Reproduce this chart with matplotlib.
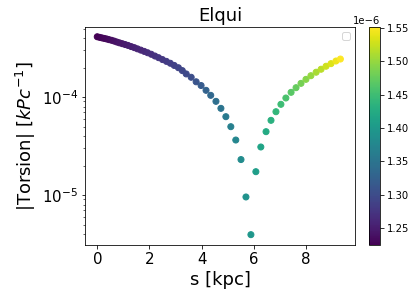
import matplotlib
matplotlib.use('Agg')
import matplotlib.pyplot as plt

# arc length along the arm [kpc]
s = [0.00, 0.09, 0.18, 0.27, 0.36, 0.45, 0.55, 0.65, 0.75, 0.85,
     0.96, 1.07, 1.18, 1.30, 1.42, 1.54, 1.67, 1.80, 1.93, 2.07,
     2.21, 2.35, 2.50, 2.65, 2.80, 2.95, 3.11, 3.26, 3.41, 3.60,
     3.79, 3.98, 4.17, 4.35, 4.55, 4.74, 4.93, 5.12, 5.31, 5.51,
     5.70, 5.89, 6.08, 6.27, 6.47, 6.66, 6.85, 7.04, 7.23, 7.43,
     7.62, 7.81, 8.00, 8.19, 8.39, 8.58, 8.77, 8.96, 9.15, 9.32]

# |torsion| in units of 1e-4 kpc^-1
torsion = [4.12, 4.06, 4.01, 3.96, 3.91, 3.85, 3.79, 3.72, 3.64, 3.57,
           3.50, 3.43, 3.36, 3.27, 3.19, 3.10, 3.01, 2.92, 2.83, 2.73,
           2.62, 2.52, 2.41, 2.31, 2.21, 2.10, 1.99, 1.86, 1.72, 1.59,
           1.43, 1.31, 1.17, 1.04, 0.903, 0.766, 0.630, 0.498, 0.364, 0.230,
           0.0955, 0.0394, 0.173, 0.309, 0.443, 0.578, 0.708, 0.842, 0.977, 1.116,
           1.245, 1.378, 1.514, 1.65, 1.79, 1.92, 2.06, 2.19, 2.33, 2.44]

# colour quantity in units of 1e-6
cval = [1.2245, 1.2265, 1.2284, 1.2304, 1.2320, 1.2340, 1.2363, 1.2382, 1.2405, 1.2425,
        1.2448, 1.2474, 1.2497, 1.2523, 1.2546, 1.2572, 1.2602, 1.2628, 1.2654, 1.2687,
        1.2716, 1.2745, 1.2778, 1.2808, 1.2840, 1.2873, 1.2906, 1.2939, 1.2971, 1.3017,
        1.3095, 1.3177, 1.3259, 1.3341, 1.3423, 1.3501, 1.3583, 1.3661, 1.3743, 1.3822,
        1.3900, 1.3979, 1.4064, 1.4149, 1.4234, 1.4319, 1.4404, 1.4492, 1.4577, 1.4662,
        1.4747, 1.4832, 1.4917, 1.5002, 1.5087, 1.5176, 1.5261, 1.5346, 1.5431, 1.5516]

y = [t * 1e-4 for t in torsion]
c = [v * 1e-6 for v in cval]

W, H = 416, 300
fig = plt.figure(figsize=(W / 72, H / 72), dpi=72)
ax = fig.add_axes([85 / W, 1 - 245 / H, 270 / W, 218 / H])
cax = fig.add_axes([369 / W, 1 - 245 / H, 11 / W, 218 / H])

sc = ax.scatter(s, y, c=c, cmap='viridis')
ax.set_yscale('log')
ax.set_xlim(-0.47, 9.88)
ax.set_ylim(3.09e-6, 5.18e-4)
ax.set_title("Elqui", fontsize=18)
ax.set_xlabel("s [kpc]", fontsize=18)
ax.set_ylabel(r"|Torsion| [$kPc^{-1}$]", fontsize=18)
ax.tick_params(labelsize=15)
ax.legend([], [])

cb = fig.colorbar(sc, cax=cax)
cb.ax.tick_params(labelsize=10)

fig.savefig("out.png", dpi=72)
